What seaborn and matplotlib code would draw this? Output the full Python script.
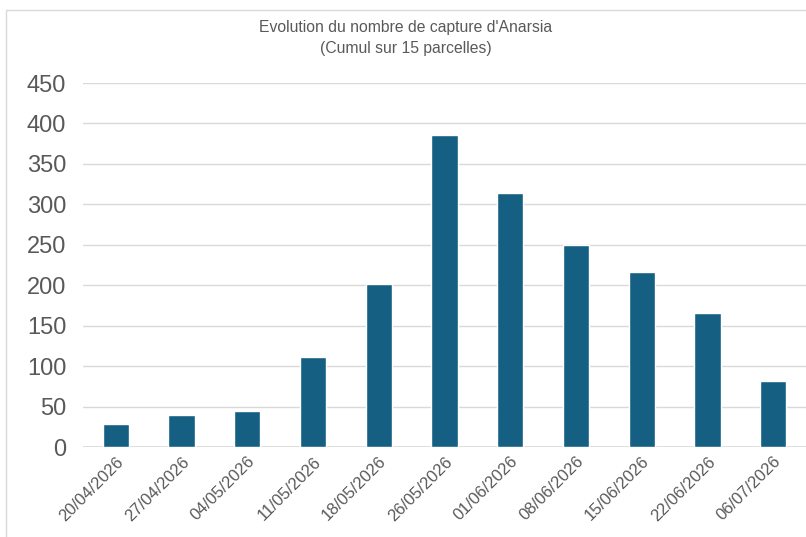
import matplotlib
matplotlib.use("Agg")
import matplotlib.pyplot as plt
import seaborn as sns
import pandas as pd
from matplotlib.patches import Rectangle

# Captures d'Anarsia (cumul sur 15 parcelles)
dates = ["20/04/2026", "27/04/2026", "04/05/2026", "11/05/2026", "18/05/2026",
         "26/05/2026", "01/06/2026", "08/06/2026", "15/06/2026", "22/06/2026",
         "06/07/2026"]
captures = [29, 39, 44, 111, 201, 386, 314, 250, 216, 166, 81]
yticks = [0, 50, 100, 150, 200, 250, 300, 350, 400, 450]

df = pd.DataFrame({"date": dates, "captures": captures})

sns.set_theme(style="white")
plt.rcParams["font.family"] = ["Liberation Sans", "DejaVu Sans"]

fig = plt.figure(figsize=(8.06, 5.37), dpi=100)
ax = fig.add_axes([83 / 806, 1 - 447 / 537, 723 / 806, 364 / 537])

sns.barplot(data=df, x="date", y="captures", color="#156082", width=0.4,
            saturation=1, ax=ax, zorder=3)

ax.set_ylim(0, 450)
ax.set_yticks(yticks)
ax.set_xlim(-0.5, len(dates) - 0.5)
ax.yaxis.grid(True, color="#d9d9d9", linewidth=1, zorder=0)
ax.axhline(0, color="#d9d9d9", linewidth=1.2, zorder=2)
for s in ax.spines.values():
    s.set_visible(False)
ax.set_xlabel("")
ax.set_ylabel("")
ax.tick_params(axis="y", labelsize=17, colors="#595959", length=0, pad=12)
ax.tick_params(axis="x", labelsize=12, colors="#595959", length=0, pad=5)
plt.setp(ax.get_xticklabels(), rotation=45, ha="right", rotation_mode="anchor")

fig.text(0.5 + 3 / 806, 1 - 28 / 537, "Evolution du nombre de capture d'Anarsia",
         ha="center", va="center", fontsize=11.3, color="#595959")
fig.text(0.5 + 3 / 806, 1 - 49 / 537, "(Cumul sur 15 parcelles)",
         ha="center", va="center", fontsize=11.3, color="#595959")

# chart area border
fig.patches.append(Rectangle((6 / 806, -0.1), 1.0, 1 - 10 / 537 + 0.1,
                             transform=fig.transFigure, fill=False,
                             edgecolor="#d9d9d9", linewidth=1))

fig.savefig("out.png", dpi=100)
